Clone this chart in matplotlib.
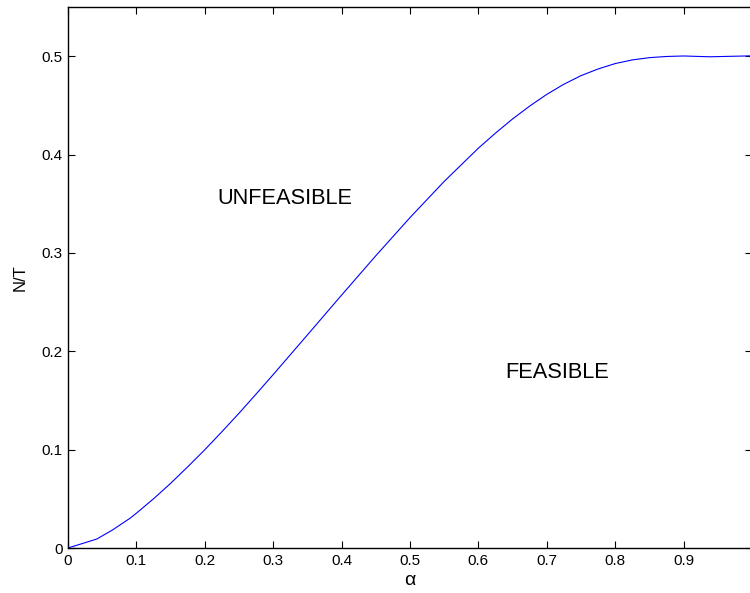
import matplotlib
matplotlib.use("Agg")
import matplotlib.pyplot as plt

plt.rcParams['font.family'] = ['Liberation Sans', 'DejaVu Sans']

alpha = [0.0, 0.042, 0.065, 0.0906, 0.1, 0.125, 0.15, 0.175, 0.2, 0.225,
         0.25, 0.275, 0.3, 0.35, 0.4, 0.45, 0.5, 0.55, 0.6, 0.625, 0.65,
         0.675, 0.7, 0.725, 0.75, 0.775, 0.8, 0.825, 0.85, 0.875, 0.9,
         0.9386, 0.997]
nt = [0.0, 0.0091, 0.0183, 0.0302, 0.0354, 0.0500, 0.0657, 0.0825, 0.0999,
      0.1182, 0.1370, 0.1565, 0.1763, 0.2166, 0.2571, 0.2971, 0.3359,
      0.3727, 0.4065, 0.4218, 0.4362, 0.4493, 0.4612, 0.4715, 0.4802,
      0.4870, 0.4925, 0.4962, 0.4985, 0.4997, 0.5002, 0.4994, 0.5003]
xticks = [0, 0.1, 0.2, 0.3, 0.4, 0.5, 0.6, 0.7, 0.8, 0.9]
xtick_labels = ['0', '0.1', '0.2', '0.3', '0.4', '0.5', '0.6', '0.7', '0.8', '0.9']
yticks = [0, 0.1, 0.2, 0.3, 0.4, 0.5]
ytick_labels = ['0', '0.1', '0.2', '0.3', '0.4', '0.5']

fig = plt.figure(figsize=(7.5, 5.93), dpi=100)
ax = fig.add_axes([68/750, 1-548/593, (752-68)/750, (548-7)/593])
ax.plot(alpha, nt, color='#0000ff', lw=0.8)
ax.set_xlim(0, 1.0)
ax.set_ylim(0, 0.55)
ax.set_xticks(xticks)
ax.set_xticklabels(xtick_labels)
ax.set_yticks(yticks)
ax.set_yticklabels(ytick_labels)
ax.tick_params(direction='in', length=5, width=0.8, labelsize=11,
               top=True, right=True, pad=4)
for s in ax.spines.values():
    s.set_linewidth(1.0)
ax.set_xlabel('α', fontsize=14, labelpad=3)
ax.set_ylabel('N/T', fontsize=12, labelpad=10)
ax.text(0.218, 0.355, 'UNFEASIBLE', fontsize=15.7, ha='left', va='center')
ax.text(0.639, 0.178, 'FEASIBLE', fontsize=15.7, ha='left', va='center')
fig.savefig('out.png', dpi=100)
